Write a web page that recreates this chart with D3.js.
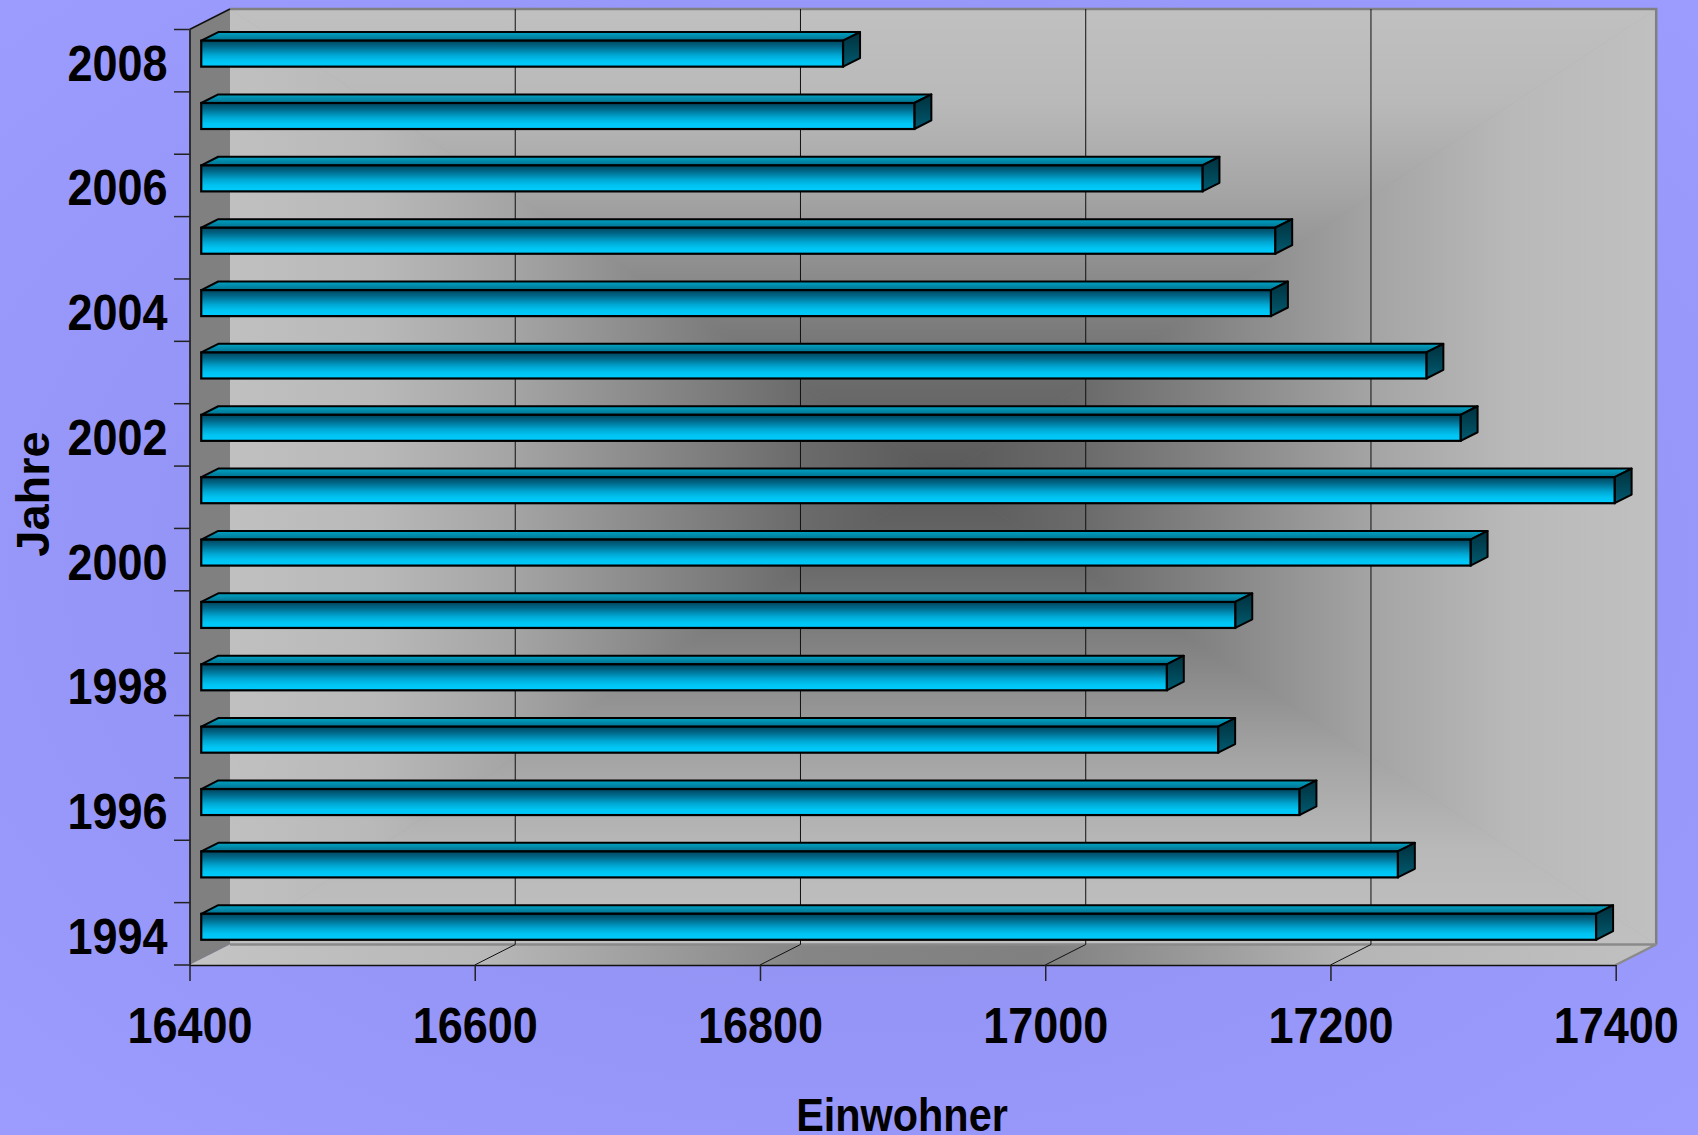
<!DOCTYPE html>
<html>
<head>
<meta charset="utf-8">
<script src="https://cdnjs.cloudflare.com/ajax/libs/d3/7.8.5/d3.min.js"></script>
<style>
	html, body { margin: 0; padding: 0; background: #9797f8; }
	svg { display: block; }
	text { font-family: 'Liberation Sans', Arial, sans-serif; font-weight: bold; }
</style>
</head>
<body>
<div id="chart"></div>
<script>
'use strict';

// Einwohner je Jahr
var years = [1994, 1995, 1996, 1997, 1998, 1999, 2000, 2001, 2002, 2003, 2004, 2005, 2006, 2007, 2008];
var einwohner = [17378, 17239, 17170, 17113, 17077, 17125, 17290, 17391, 17283, 17259, 17150, 17153, 17102, 16900, 16850];
var xTicks = [16400, 16600, 16800, 17000, 17200, 17400];
var yLabels = [1994, 1996, 1998, 2000, 2002, 2004, 2006, 2008];
var xTitle = 'Einwohner';
var yTitle = 'Jahre';

var width = 1698;
var height = 1135;
var plot = {left: 189.5, right: 1615.7, top: 29.5, bottom: 965};
var depth = {x: 40.5, y: -20.5};
var bar = {z0: 0.29, z1: 0.71, top: 0.274, size: 0.417};

var data = years.map(function(y, i){ return {year: y, value: einwohner[i]}; });

var x = d3.scaleLinear()
	.domain([xTicks[0], xTicks[xTicks.length - 1]])
	.range([plot.left, plot.right]);

var y = d3.scaleBand()
	.domain(years.slice().reverse())
	.range([plot.top, plot.bottom])
	.padding(0);

var svg = d3.select('#chart').append('svg')
	.attr('width', width)
	.attr('height', height);

var defs = svg.append('defs');

function linear(id, stops, attrs){
	var a = attrs || {x1: 0, y1: 0, x2: 0, y2: 1};
	var g = defs.append('linearGradient').attr('id', id);
	Object.keys(a).forEach(function(k){
		g.attr(k, a[k]);
	});
	stops.forEach(function(s){
		g.append('stop').attr('offset', s[0]).attr('stop-color', s[1]);
	});
	return g;
}

// background
var bg = defs.append('radialGradient').attr('id', 'bg').attr('cx', 0.5).attr('cy', 0.5).attr('r', 0.7);
bg.append('stop').attr('offset', 0).attr('stop-color', '#8c8cec');
bg.append('stop').attr('offset', 1).attr('stop-color', '#9c9cff');

svg.append('rect')
	.attr('width', width)
	.attr('height', height)
	.attr('fill', 'url(#bg)');

// back wall, rectangular gradient from the centre
var wall = {
	x0: plot.left + depth.x,
	x1: plot.right + depth.x,
	y0: plot.top + depth.y,
	y1: plot.bottom + depth.y
};
var cx = (wall.x0 + wall.x1) / 2;
var cy = (wall.y0 + wall.y1) / 2;
var wallStops = [[0, '#595959'], [0.2, '#6b6b6b'], [0.4, '#878787'], [0.6, '#a4a4a4'], [0.8, '#b9b9b9'], [1, '#c0c0c0']];

var sides = [
	{id: 'wt', pts: [[wall.x0, wall.y0], [wall.x1, wall.y0], [cx, cy]], g: {x1: cx, y1: cy, x2: cx, y2: wall.y0}},
	{id: 'wb', pts: [[wall.x0, wall.y1], [wall.x1, wall.y1], [cx, cy]], g: {x1: cx, y1: cy, x2: cx, y2: wall.y1}},
	{id: 'wl', pts: [[wall.x0, wall.y0], [wall.x0, wall.y1], [cx, cy]], g: {x1: cx, y1: cy, x2: wall.x0, y2: cy}},
	{id: 'wr', pts: [[wall.x1, wall.y0], [wall.x1, wall.y1], [cx, cy]], g: {x1: cx, y1: cy, x2: wall.x1, y2: cy}}
];

svg.append('rect')
	.attr('x', wall.x0).attr('y', wall.y0)
	.attr('width', wall.x1 - wall.x0).attr('height', wall.y1 - wall.y0)
	.attr('fill', '#8a8a8a');

sides.forEach(function(s){
	var g = s.g;
	g.gradientUnits = 'userSpaceOnUse';
	linear(s.id, wallStops, g);
	svg.append('polygon')
		.attr('points', s.pts.join(' '))
		.attr('fill', 'url(#' + s.id + ')')
		.attr('stroke', 'url(#' + s.id + ')')
		.attr('stroke-width', 0.6);
});

svg.append('path')
	.attr('d', 'M' + wall.x0 + ',' + wall.y0 + 'H' + wall.x1 + 'V' + wall.y1)
	.attr('fill', 'none')
	.attr('stroke', '#808080')
	.attr('stroke-width', 2.5);

// left wall
svg.append('polygon')
	.attr('points', [[plot.left, plot.top], [wall.x0, wall.y0], [wall.x0, wall.y1], [plot.left, plot.bottom]].join(' '))
	.attr('fill', '#808080');

svg.append('line')
	.attr('x1', plot.left).attr('y1', plot.top)
	.attr('x2', wall.x0).attr('y2', wall.y0)
	.attr('stroke', '#111').attr('stroke-width', 1.5);

// floor
linear('floor', [[0, '#c4c4c4'], [0.2, '#b8b8b8'], [0.42, '#858585'], [0.58, '#808080'], [0.8, '#b6b6b6'], [1, '#c0c0c0']],
	{x1: 0, y1: 0, x2: 1, y2: 0});

svg.append('polygon')
	.attr('points', [[plot.left, plot.bottom], [plot.right, plot.bottom], [wall.x1, wall.y1], [wall.x0, wall.y1]].join(' '))
	.attr('fill', 'url(#floor)');

svg.append('path')
	.attr('d', 'M' + wall.x0 + ',' + wall.y1 + 'H' + wall.x1 + 'L' + plot.right + ',' + plot.bottom)
	.attr('fill', 'none')
	.attr('stroke', '#8a8a8a')
	.attr('stroke-width', 2.5);

// grid
var inner = xTicks.slice(1, -1);

svg.append('g').selectAll('line.grid')
	.data(inner)
	.enter()
	.append('line')
	.attr('class', 'grid')
	.attr('x1', function(d){ return x(d) + depth.x; })
	.attr('x2', function(d){ return x(d) + depth.x; })
	.attr('y1', wall.y0)
	.attr('y2', wall.y1)
	.attr('stroke', '#111')
	.attr('stroke-width', 1);

svg.append('g').selectAll('line.fgrid')
	.data(inner)
	.enter()
	.append('line')
	.attr('class', 'fgrid')
	.attr('x1', function(d){ return x(d); })
	.attr('x2', function(d){ return x(d) + depth.x; })
	.attr('y1', plot.bottom)
	.attr('y2', wall.y1)
	.attr('stroke', '#111')
	.attr('stroke-width', 1);

// bars
linear('front', [[0, '#00465e'], [0.22, '#006788'], [0.55, '#00a6d2'], [0.78, '#00c4f2'], [1, '#00ccff']]);
linear('topf', [[0, '#00a4c4'], [1, '#006f8e']]);
linear('side', [[0, '#00303c'], [1, '#005a70']]);

var bw = y.bandwidth();
var dz = bar.z1 - bar.z0;
var ddx = dz * depth.x;
var ddy = dz * depth.y;

var bars = svg.append('g').attr('class', 'bars')
	.selectAll('g.bar')
	.data(data)
	.enter()
	.append('g')
	.attr('class', 'bar');

// front face sits at depth z0, so it is shifted along the depth vector
function geom(d){
	var fy0 = y(d.year) + bw * bar.top + bar.z0 * depth.y;
	return {
		x0: x(x.domain()[0]) + bar.z0 * depth.x,
		x1: x(d.value) + bar.z0 * depth.x,
		y0: fy0,
		y1: fy0 + bw * bar.size
	};
}

bars.append('polygon')
	.attr('points', function(d){
		var g = geom(d);
		return [[g.x0, g.y0], [g.x1, g.y0], [g.x1 + ddx, g.y0 + ddy], [g.x0 + ddx, g.y0 + ddy]].join(' ');
	})
	.attr('fill', 'url(#topf)')
	.attr('stroke', '#000')
	.attr('stroke-width', 2)
	.attr('stroke-linejoin', 'round');

bars.append('polygon')
	.attr('points', function(d){
		var g = geom(d);
		return [[g.x1, g.y0], [g.x1 + ddx, g.y0 + ddy], [g.x1 + ddx, g.y1 + ddy], [g.x1, g.y1]].join(' ');
	})
	.attr('fill', 'url(#side)')
	.attr('stroke', '#000')
	.attr('stroke-width', 2)
	.attr('stroke-linejoin', 'round');

bars.append('rect')
	.attr('x', function(d){ return geom(d).x0; })
	.attr('y', function(d){ return geom(d).y0; })
	.attr('width', function(d){ var g = geom(d); return g.x1 - g.x0; })
	.attr('height', bw * bar.size)
	.attr('fill', 'url(#front)')
	.attr('stroke', '#000')
	.attr('stroke-width', 2.2);

// y ticks on band edges
var edges = years.map(function(yr){ return y(yr); }).concat([plot.bottom]);

svg.append('g').selectAll('line.ytick')
	.data(edges)
	.enter()
	.append('line')
	.attr('class', 'ytick')
	.attr('x1', plot.left - 15.5)
	.attr('x2', plot.left)
	.attr('y1', function(d){ return d; })
	.attr('y2', function(d){ return d; })
	.attr('stroke', '#222')
	.attr('stroke-width', 1.5);

// axes
var xAxis = d3.axisBottom(x).tickValues(xTicks).tickSize(16).tickSizeOuter(0).tickFormat(d3.format('d'));
var yAxis = d3.axisLeft(y).tickValues(yLabels).tickSize(0).tickSizeOuter(0);

var gx = svg.append('g')
	.attr('class', 'axis x')
	.attr('transform', 'translate(0,' + plot.bottom + ')')
	.call(xAxis);

gx.attr('font-size', 50).attr('font-family', null);
gx.select('.domain').attr('stroke', '#111').attr('stroke-width', 1.5);
gx.selectAll('.tick line').attr('stroke', '#222').attr('stroke-width', 1.5);
gx.selectAll('.tick text')
	.attr('fill', '#000')
	.attr('y', 78)
	.attr('dy', null)
	.attr('transform', 'scale(0.9,1)');

var gy = svg.append('g')
	.attr('class', 'axis y')
	.attr('transform', 'translate(' + plot.left + ',0)')
	.call(yAxis);

gy.attr('font-size', 50).attr('font-family', null);
gy.select('.domain').attr('stroke', '#111').attr('stroke-width', 1.5);
gy.selectAll('.tick text')
	.attr('fill', '#000')
	.attr('x', -24.5)
	.attr('dy', '0.4em')
	.attr('transform', 'scale(0.9,1)');

// titles
svg.append('text')
	.attr('transform', 'translate(902,1131) scale(0.9,1)')
	.attr('text-anchor', 'middle')
	.attr('font-size', 46)
	.attr('fill', '#000')
	.text(xTitle);

svg.append('text')
	.attr('transform', 'translate(48.5,494) rotate(-90)')
	.attr('text-anchor', 'middle')
	.attr('font-size', 47)
	.attr('fill', '#000')
	.text(yTitle);
</script>
</body>
</html>
